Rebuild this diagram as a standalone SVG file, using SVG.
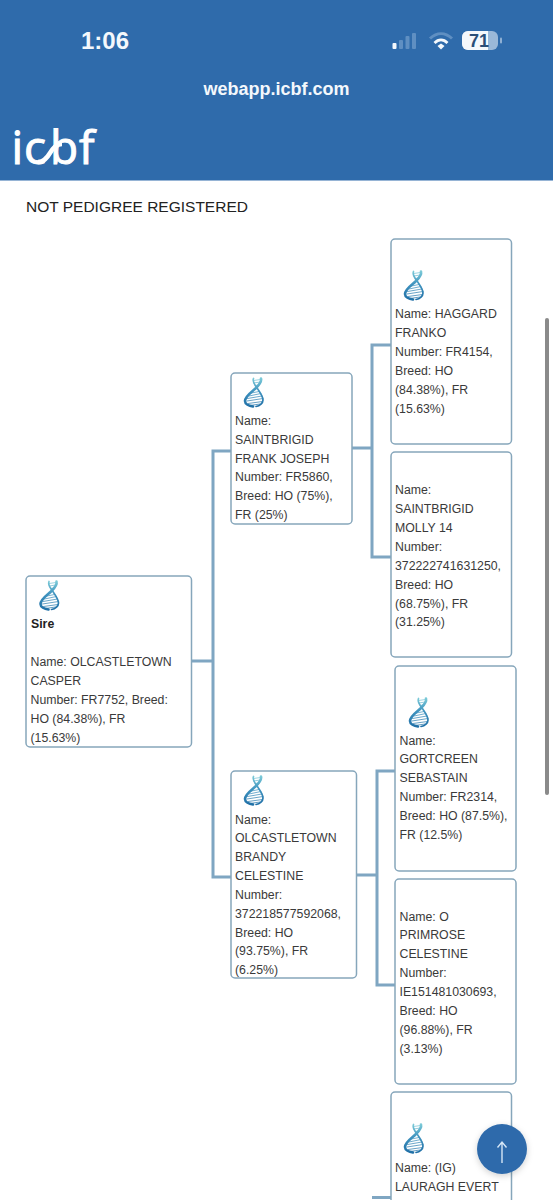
<svg xmlns="http://www.w3.org/2000/svg" width="553" height="1200" viewBox="0 0 553 1200">
<style>
.n{fill:#fff;stroke:#86a6bb;stroke-width:1.5}
.t{font-family:"Liberation Sans",Arial,sans-serif;font-size:12.3px;fill:#3a3a3a}
.b{font-weight:700;fill:#222}
.c{fill:none;stroke:#7fa6c2;stroke-width:3}
.w{font-family:"Liberation Sans",Arial,sans-serif;font-weight:700;fill:#f4f8fc}
</style>
<defs>
<linearGradient id="g" gradientUnits="userSpaceOnUse" x1="0" y1="0" x2="0" y2="29"><stop offset="0" stop-color="#7ccbd8"/><stop offset="0.45" stop-color="#3f93bf"/><stop offset="1" stop-color="#1f6fa6"/></linearGradient>
<g id="dna" fill="none" stroke="url(#g)" stroke-linecap="round">
<path stroke-width="1.700" d="M9.500 .5C8 4 11 7 13 10C15 13 19 18 19 22C19 25 16 28 12 28.500"/>
<path stroke-width="2.600" d="M17 .5C18 4 15 7 12 10C8 14 1 18 1 23C1 26 5 28 9 28.500"/>
<path stroke-width=".9" opacity=".8" d="M9.500 2.500L16.500 1.500M10 5L16 4M11 7.500L15 7M7.500 15L15 13.500M5 18L17 15.500M3.500 20.500L18 18M3 23L19 20.500M4 25.500L18.500 23.500M6 27.500L16 26"/>
</g>
<filter id="s" x="-30%" y="-30%" width="160%" height="160%"><feDropShadow dx="0" dy="2" stdDeviation="3" flood-color="#000" flood-opacity=".18"/></filter>
</defs>
<rect width="553" height="1200" fill="#fff"/>
<g id="header">
<rect width="553" height="180.500" fill="#2f6bab"/>
<text class="w" x="105" y="49" font-size="24" text-anchor="middle">1:06</text>
<rect x="392.500" y="43" width="4" height="6" rx="1" fill="#f4f8fc"/>
<rect x="399" y="40" width="4" height="9" rx="1" fill="#5f8fc2"/>
<rect x="405.500" y="36" width="4" height="13" rx="1" fill="#5f8fc2"/>
<rect x="412" y="33" width="4" height="16" rx="1" fill="#5f8fc2"/>
<path d="M430 38.500C437 32 445 32 452 38.500" fill="none" stroke="#5f8fc2" stroke-width="3"/>
<path d="M434.500 43C438.500 39 443.500 39 447.500 43" fill="none" stroke="#f4f8fc" stroke-width="2.800"/>
<path d="M437.500 46L441 43.500L444.500 46L441 49.500Z" fill="#f4f8fc"/>
<rect x="462" y="31" width="36" height="19" rx="6" fill="#9ab8d8"/>
<path d="M468 31H488V50H468A6 6 0 0 1 462 44V37A6 6 0 0 1 468 31Z" fill="#f4f8fc"/>
<rect x="500" y="37.500" width="2" height="6" rx="1" fill="#8fb0d4"/>
<text x="479" y="46.500" font-size="18" font-weight="700" font-family="'Liberation Sans',Arial,sans-serif" text-anchor="middle" fill="#2a4f78">71</text>
<text class="w" x="276.500" y="95" font-size="18" text-anchor="middle">webapp.icbf.com</text>
<text x="11.500 24 50 79" y="164" font-size="46" font-family="'Open Sans',sans-serif" fill="#fff" stroke="#fff" stroke-width="1">icbf</text>
<path d="M38 162C44 162 47 158 50 153C53 148 56 144 62 144" fill="none" stroke="#fff" stroke-width="4.500"/>
</g>
<text id="title" x="26" y="211.500" font-size="15.500" font-family="'Liberation Sans',Arial,sans-serif" fill="#222">NOT PEDIGREE REGISTERED</text>
<g id="connectors">
<path class="c" d="M191 661H213M231 451H213V877H231"/>
<path class="c" d="M352 448H372M391 345H372V557H391"/>
<path class="c" d="M356 875H377M395 771H377V985H395"/>
<path class="c" d="M372 1197.500H391"/>
</g>
<g id="node-sire">
<rect class="n" x="26" y="576" width="165.500" height="171" rx="4"/>
<use href="#dna" x="39.500" y="581"/>
<text class="t b" x="31" y="628">Sire</text>
<text class="t" x="30.500" y="665.500">Name: OLCASTLETOWN</text>
<text class="t" x="30.500" y="684.500">CASPER</text>
<text class="t" x="30.500" y="703.500">Number: FR7752, Breed:</text>
<text class="t" x="30.500" y="722.500">HO (84.38%), FR</text>
<text class="t" x="30.500" y="741.500">(15.63%)</text>
</g>
<g id="node-frank">
<rect class="n" x="231" y="373" width="121" height="151" rx="4"/>
<use href="#dna" x="244" y="378"/>
<text class="t" x="235" y="424.500">Name:</text>
<text class="t" x="235" y="443.500">SAINTBRIGID</text>
<text class="t" x="235" y="462.500">FRANK JOSEPH</text>
<text class="t" x="235" y="481">Number: FR5860,</text>
<text class="t" x="235" y="500">Breed: HO (75%),</text>
<text class="t" x="235" y="519">FR (25%)</text>
</g>
<g id="node-haggard">
<rect class="n" x="391" y="239" width="120.500" height="205" rx="4"/>
<use href="#dna" x="404" y="271"/>
<text class="t" x="395" y="318">Name: HAGGARD</text>
<text class="t" x="395" y="337">FRANKO</text>
<text class="t" x="395" y="356">Number: FR4154,</text>
<text class="t" x="395" y="375">Breed: HO</text>
<text class="t" x="395" y="393.500">(84.38%), FR</text>
<text class="t" x="395" y="412.500">(15.63%)</text>
</g>
<g id="node-molly">
<rect class="n" x="391" y="452" width="120.500" height="205" rx="4"/>
<text class="t" x="395" y="493.500">Name:</text>
<text class="t" x="395" y="512.500">SAINTBRIGID</text>
<text class="t" x="395" y="531.500">MOLLY 14</text>
<text class="t" x="395" y="550.500">Number:</text>
<text class="t" x="395" y="569.500">372222741631250,</text>
<text class="t" x="395" y="588.500">Breed: HO</text>
<text class="t" x="395" y="607.500">(68.75%), FR</text>
<text class="t" x="395" y="625.500">(31.25%)</text>
</g>
<g id="node-brandy">
<rect class="n" x="231" y="771" width="125.500" height="207" rx="4"/>
<use href="#dna" x="244" y="776"/>
<text class="t" x="235" y="823.500">Name:</text>
<text class="t" x="235" y="842">OLCASTLETOWN</text>
<text class="t" x="235" y="861">BRANDY</text>
<text class="t" x="235" y="880">CELESTINE</text>
<text class="t" x="235" y="899">Number:</text>
<text class="t" x="235" y="917.500">372218577592068,</text>
<text class="t" x="235" y="936.500">Breed: HO</text>
<text class="t" x="235" y="955">(93.75%), FR</text>
<text class="t" x="235" y="973.500">(6.25%)</text>
</g>
<g id="node-gortcreen">
<rect class="n" x="395" y="666" width="121" height="205" rx="4"/>
<use href="#dna" x="409" y="698"/>
<text class="t" x="399.500" y="744.500">Name:</text>
<text class="t" x="399.500" y="763">GORTCREEN</text>
<text class="t" x="399.500" y="782">SEBASTAIN</text>
<text class="t" x="399.500" y="801">Number: FR2314,</text>
<text class="t" x="399.500" y="820">Breed: HO (87.5%),</text>
<text class="t" x="399.500" y="839">FR (12.5%)</text>
</g>
<g id="node-primrose">
<rect class="n" x="395" y="879" width="121" height="205" rx="4"/>
<text class="t" x="399.500" y="920.500">Name: O</text>
<text class="t" x="399.500" y="939">PRIMROSE</text>
<text class="t" x="399.500" y="958">CELESTINE</text>
<text class="t" x="399.500" y="977">Number:</text>
<text class="t" x="399.500" y="996">IE151481030693,</text>
<text class="t" x="399.500" y="1015">Breed: HO</text>
<text class="t" x="399.500" y="1034">(96.88%), FR</text>
<text class="t" x="399.500" y="1052.500">(3.13%)</text>
</g>
<g id="node-lauragh">
<rect class="n" x="391" y="1092" width="120.500" height="130" rx="4"/>
<use href="#dna" x="404" y="1124"/>
<text class="t" x="395" y="1171.500">Name: (IG)</text>
<text class="t" x="395" y="1190.500">LAURAGH EVERT</text>
</g>
<rect id="scrollbar" x="545" y="318" width="4" height="477" rx="2" fill="#8a8a8a"/>
<g id="top-button">
<circle cx="502" cy="1149" r="25" fill="#2f6bab" filter="url(#s)"/>
<path d="M502 1163V1142M497.500 1147.500L502 1142L506.500 1147.500" fill="none" stroke="#d5e6f6" stroke-width="1.400"/>
</g>
</svg>
